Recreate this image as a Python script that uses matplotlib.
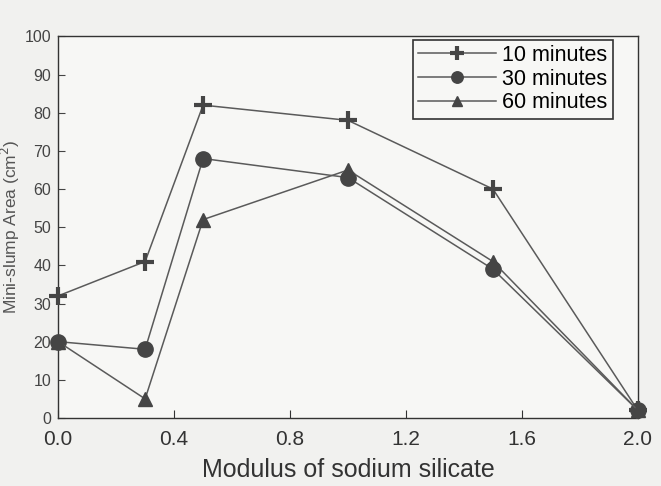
import matplotlib.pyplot as plt

# modulus of sodium silicate vs mini-slump area
modulus = [0.0, 0.3, 0.5, 1.0, 1.5, 2.0]
area_10min = [32, 41, 82, 78, 60, 2]
area_30min = [20, 18, 68, 63, 39, 2]
area_60min = [20, 5, 52, 65, 41, 2]

x_ticks = [0.0, 0.4, 0.8, 1.2, 1.6, 2.0]
y_ticks = list(range(0, 101, 10))

plt.rcParams['font.family'] = ['Liberation Sans', 'DejaVu Sans']

fig = plt.figure(figsize=(6.61, 4.86), dpi=100, facecolor='#f1f1ef')
ax = fig.add_axes([0.088, 0.14, 0.877, 0.785])
ax.set_facecolor('#f7f7f5')

line_col = '#5a5a5a'
mark_col = '#454545'

ax.plot(modulus, area_10min, color=line_col, lw=1.1, marker='+', ms=13, mew=3,
        mec=mark_col, label='10 minutes', clip_on=False, zorder=3)
ax.plot(modulus, area_30min, color=line_col, lw=1.1, marker='o', ms=11,
        mfc=mark_col, mec=mark_col, label='30 minutes', clip_on=False, zorder=3)
ax.plot(modulus, area_60min, color=line_col, lw=1.1, marker='^', ms=10,
        mfc=mark_col, mec=mark_col, label='60 minutes', clip_on=False, zorder=3)

ax.set_xlim(0, 2.0)
ax.set_ylim(0, 100)
ax.set_xticks(x_ticks)
ax.set_xticklabels([f'{v:.1f}' for v in x_ticks])
ax.set_yticks(y_ticks)

ax.tick_params(axis='x', direction='in', length=6, labelsize=15, pad=9, colors='#333333')
ax.tick_params(axis='y', direction='in', length=5, labelsize=11.5, pad=5, colors='#444444')
for s in ax.spines.values():
    s.set_color('#333333')
    s.set_linewidth(1.0)

ax.set_xlabel('Modulus of sodium silicate', fontsize=18, color='#333333', labelpad=6)
ax.set_ylabel('Mini-slump Area (cm$^2$)', fontsize=12.5, color='#555555')
ax.yaxis.set_label_coords(-0.062, 0.5)

leg = ax.legend(loc='upper right', fontsize=15.5, handlelength=3.6, markerscale=0.75,
                frameon=True, fancybox=False, borderpad=0.25, labelspacing=0.12,
                handletextpad=0.3, bbox_to_anchor=(0.975, 1.02))
leg.get_frame().set_edgecolor('#333333')
leg.get_frame().set_linewidth(1.2)
leg.get_frame().set_facecolor('#f7f7f5')
leg.get_frame().set_alpha(1)

fig.savefig('out.png', dpi=100, facecolor=fig.get_facecolor())
